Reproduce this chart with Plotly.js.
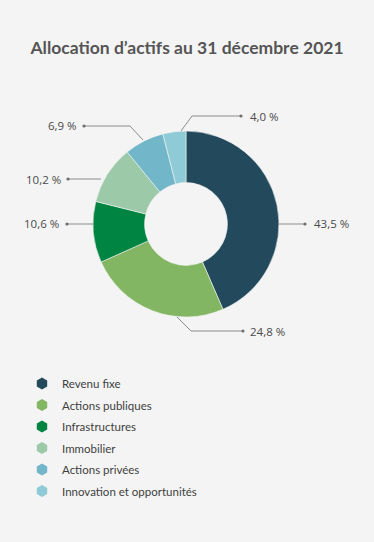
<!DOCTYPE html>
<html>
<head>
<meta charset="utf-8">
<script src="https://cdn.plot.ly/plotly-3.0.1.min.js"></script>
<style>
  html, body { margin: 0; padding: 0; background: #f4f4f4; }
  #chart { width: 374px; height: 542px; }
</style>
</head>
<body>
<div id="chart"></div>
<script>
// ---- Data ----
const categories = ["Revenu fixe", "Actions publiques", "Infrastructures", "Immobilier", "Actions privées", "Innovation et opportunités"];
const values = [43.5, 24.8, 10.6, 10.2, 6.9, 4.0];
const colors = ["#234a5c", "#82b663", "#008442", "#9ccaa9", "#72b6ca", "#8ecbd6"];
const chartTitle = "Allocation d’actifs au 31 décembre 2021";

// ---- Layout helpers (pixels) ----
const W = 374, H = 542;
const CX = 186, CY = 224, R = 93;
const px = x => x / W;
const py = y => 1 - y / H;

// connector routing for each slice label (pixel coordinates of the line, label anchor)
const labelLayout = [
  { path: [[279, 224], [305, 224]], tx: 312, ty: 224, anchor: "left" },
  { path: [[177, 317], [191, 331], [243, 331]], tx: 248, ty: 331, anchor: "left" },
  { path: [[93, 224], [67, 224]], tx: 61, ty: 224, anchor: "right" },
  { path: [[101, 179], [68, 179]], tx: 63, ty: 179, anchor: "right" },
  { path: [[143, 140], [130, 126], [84, 126]], tx: 79, ty: 126, anchor: "right" },
  { path: [[181, 131], [192, 116], [241, 116]], tx: 248, ty: 116, anchor: "left" }
];

const fmt = v => v.toFixed(1).replace(".", ",") + " %";

const pie = {
  type: "pie",
  values: values,
  labels: categories,
  marker: { colors: colors, line: { color: "#f4f4f4", width: 0.6 } },
  hole: 0.445,
  sort: false,
  direction: "clockwise",
  rotation: 0,
  textinfo: "none",
  hoverinfo: "label+percent",
  showlegend: false,
  domain: { x: [px(CX - R), px(CX + R)], y: [py(CY + R), py(CY - R)] }
};

const legendTraces = categories.map((c, i) => ({
  type: "scatter",
  mode: "markers",
  x: [null], y: [null],
  name: c,
  legendgroup: "g" + i,
  marker: { symbol: "hexagon", size: 12, color: colors[i] },
  hoverinfo: "skip"
}));

const shapes = [];
const annotations = [];
labelLayout.forEach((L, i) => {
  const d = L.path.map((p, k) => (k === 0 ? "M" : "L") + px(p[0]) + "," + py(p[1])).join(" ");
  shapes.push({ type: "path", xref: "paper", yref: "paper", path: d,
    line: { color: "#8c8c8c", width: 1 } });
  const end = L.path[L.path.length - 1];
  shapes.push({ type: "circle", xref: "paper", yref: "paper",
    x0: px(end[0] - 1.6), x1: px(end[0] + 1.6), y0: py(end[1] + 1.6), y1: py(end[1] - 1.6),
    fillcolor: "#6e6e6e", line: { width: 0 } });
  annotations.push({
    xref: "paper", yref: "paper", x: px(L.tx), y: py(L.ty),
    xanchor: L.anchor, yanchor: "middle", showarrow: false,
    text: fmt(values[i]),
    font: { family: "Open Sans, sans-serif", size: 11.5, color: "#4a4a4a" }
  });
});

const layout = {
  width: W, height: H,
  paper_bgcolor: "#f4f4f4",
  plot_bgcolor: "#f4f4f4",
  margin: { l: 0, r: 0, t: 0, b: 0 },
  title: {
    text: "<b>" + chartTitle + "</b>",
    x: 0.5, xanchor: "center", xref: "paper",
    y: py(48), yanchor: "middle", yref: "container",
    font: { family: "Lato, sans-serif", size: 17.5, color: "#555555" }
  },
  xaxis: { visible: false },
  yaxis: { visible: false },
  showlegend: true,
  legend: {
    x: px(22), y: py(369), xanchor: "left", yanchor: "top",
    bgcolor: "rgba(0,0,0,0)",
    tracegroupgap: 2.5,
    font: { family: "Lato, sans-serif", size: 11.5, color: "#3f3f3f" }
  },
  shapes: shapes,
  annotations: annotations
};

Plotly.newPlot("chart", [pie].concat(legendTraces), layout, { displayModeBar: false, staticPlot: true });
</script>
</body>
</html>
